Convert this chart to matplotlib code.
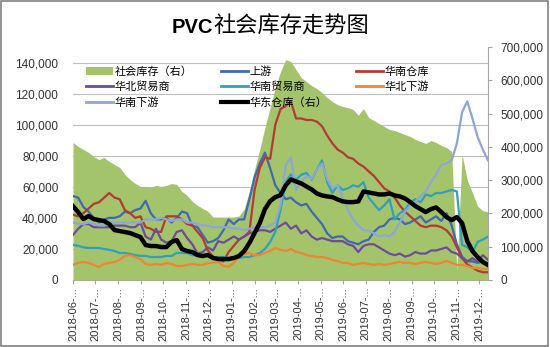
import pandas as pd
import matplotlib
matplotlib.use('Agg')
import matplotlib.pyplot as plt
from matplotlib.patches import Patch, Rectangle
from matplotlib.lines import Line2D
from matplotlib.ticker import FuncFormatter, MultipleLocator

plt.rcParams['font.family'] = ['Liberation Sans', 'Noto Sans CJK SC', 'DejaVu Sans']

# weekly data, values in thousands (tons)
dates = pd.date_range('2018-06-01', periods=81, freq='7D')
months = pd.date_range('2018-06-01', '2019-12-01', freq='MS')
month_labels = [d.strftime('%Y-%m') + '-...' for d in months]

# right axis
social_stock = [413, 401, 392, 383, 371, 362, 368, 356, 347, 338,
                317, 302, 290, 281, 281, 278, 284, 281, 284, 290,
                287, 266, 254, 236, 224, 215, 206, 189, 189, 189,
                189, 189, 192, 213, 266, 332, 392, 458, 518, 578,
                626, 662, 656, 632, 608, 596, 584, 575, 563, 548,
                536, 527, 521, 518, 512, 495, 515, 488, 479, 470,
                461, 452, 449, 443, 437, 431, 422, 416, 410, 419,
                413, 404, 398, 386, 30, 377, 300, 262, 222, 208, 205]
east_wh = [222, 204, 183, 192, 183, 180, 177, 168, 150, 147,
           144, 141, 135, 129, 105, 102, 102, 99, 99, 114,
           120, 93, 87, 84, 75, 72, 75, 66, 63, 63,
           63, 66, 72, 87, 111, 141, 171, 213, 237, 249,
           255, 284, 302, 296, 290, 281, 272, 260, 254, 251,
           249, 242, 236, 234, 234, 236, 266, 263, 260, 257,
           257, 260, 254, 251, 245, 234, 222, 213, 204, 213,
           218, 204, 189, 180, 189, 171, 117, 87, 69, 54, 45]

# left axis
upstream = [54, 53, 47, 44, 40, 37, 39, 40, 40, 41,
            44, 43, 45, 46, 51, 43, 39, 39, 40, 37,
            40, 44, 43, 35, 34, 29, 24, 25, 27, 32,
            39, 36, 39, 39, 52, 66, 75, 82, 72, 61,
            56, 52, 53, 50, 48, 49, 44, 40, 36, 30,
            27, 28, 28, 25, 24, 23, 25, 26, 31, 34,
            35, 39, 40, 39, 36, 37, 39, 41, 37, 39,
            41, 38, 43, 35, 23, 15, 12, 12, 11, 12, 10]
south_wh = [42, 41, 43, 46, 49, 50, 53, 56, 53, 52,
            45, 43, 40, 41, 34, 33, 31, 31, 41, 41,
            41, 39, 36, 35, 31, 27, 19, 15, 13, 12,
            18, 22, 26, 28, 31, 58, 72, 79, 78, 100,
            110, 112, 115, 104, 104, 103, 103, 102, 99, 93,
            88, 84, 82, 79, 78, 75, 73, 70, 67, 63,
            59, 57, 53, 48, 44, 41, 38, 35, 34, 35,
            35, 34, 32, 28, 21, 14, 10, 8, 6, 5, 5]
north_trader = [29, 33, 36, 36, 34, 34, 34, 34, 35, 35,
                35, 34, 34, 37, 28, 26, 33, 26, 24, 25,
                31, 32, 27, 23, 17, 18, 21, 19, 25, 24,
                26, 28, 26, 28, 30, 31, 32, 32, 31, 33,
                35, 37, 33, 35, 30, 32, 28, 26, 27, 26,
                25, 25, 25, 23, 22, 18, 22, 23, 23, 21,
                19, 17, 16, 17, 15, 16, 18, 17, 17, 19,
                19, 20, 21, 18, 17, 14, 12, 14, 12, 16, 13]
south_trader = [22.6, 22, 21, 20.6, 20.6, 20.6, 20, 19.4, 18.7, 17.4,
                17.4, 16.8, 16, 15.5, 15.5, 14.8, 14.8, 14.8, 15.5, 15.5,
                17.4, 17.4, 17.4, 16, 15.5, 14.8, 15.5, 14.8, 14.8, 14.8,
                14.2, 14.8, 14.2, 14.8, 14.8, 16, 17.4, 20, 24.5, 31,
                45, 63, 68, 64.5, 67.7, 69, 64.5, 71, 77, 63,
                56, 61, 58, 59, 61, 60, 63, 53, 49, 45,
                48, 52, 39, 43, 45, 50, 52, 50, 55, 54,
                56, 56, 57, 58, 57, 22.6, 21, 18, 24.5, 26, 28]
north_down = [9.7, 11, 11.6, 11, 9.7, 8.4, 10.3, 11, 11.6, 12.9,
              15.5, 16, 14.8, 13.5, 10.3, 9.7, 10.3, 9.7, 11, 10.3,
              9, 9, 9.7, 10.3, 9.7, 9.7, 11, 11, 11.6, 9,
              8.4, 11, 14.8, 16.8, 17.4, 16, 16, 17.4, 18.7, 20.6,
              19.4, 18.7, 20, 18, 17.4, 16, 15.5, 14.8, 14.8, 14.2,
              12.9, 12.3, 11, 11, 9.7, 10.3, 11, 10.3, 9.7, 10.3,
              9.7, 10.3, 11, 11.6, 11, 11, 10.3, 11, 11.6, 11,
              10.3, 11, 12.3, 11, 9.7, 9.7, 9, 7.7, 7.7, 7, 7]
south_down = [37, 36, 36, 37, 36, 35, 35, 36, 37, 37,
              37, 37, 37, 37, 39, 39, 39, 40, 39, 38,
              39, 39, 37, 37, 36, 35, 35, 34, 34, 34,
              34, 33, 33, 32, 33, 34, 34, 34, 35, 37,
              48, 74, 79, 58, 63, 67, 65, 71, 75, 65,
              59, 61, 53, 45, 39, 35, 32, 32, 30, 28,
              29, 28, 31, 37, 44, 48, 50, 54, 57, 63,
              68, 74, 75, 77, 88, 108, 115, 104, 92, 84, 77]

green = '#A4C46B'
left_series = [
    ('上游', upstream, '#4169B0'),
    ('华南仓库', south_wh, '#B33A35'),
    ('华北贸易商', north_trader, '#6E4C9A'),
    ('华南贸易商', south_trader, '#31A0BD'),
    ('华北下游', north_down, '#EE8533'),
    ('华南下游', south_down, '#8EA6D6'),
]

fmt = FuncFormatter(lambda v, p: f'{v * 1000:,.0f}')
gray = '#A6A6A6'

fig = plt.figure(figsize=(5.5, 3.47), dpi=100)
rect = [0.1327, 0.1931, 0.7546, 0.6715]
ax = fig.add_axes(rect, zorder=0)
axr = ax.twinx()
axr.set_zorder(1)
axl = fig.add_axes(rect, sharex=ax, sharey=ax, zorder=2)
axb = fig.add_axes(rect, sharex=ax, sharey=axr, zorder=3)
for a in (axr, axl, axb):
    a.patch.set_visible(False)

# area on right axis
axr.fill_between(dates, 0, social_stock, color=green, lw=0)

for name, vals, col in left_series:
    axl.plot(dates, vals, color=col, lw=1.6)
axb.plot(dates, east_wh, color='black', lw=3.2)
axl.axis('off')
axb.axis('off')

ax.set_xlim(dates[0], dates[-1])
ax.set_ylim(0, 150)
axr.set_ylim(0, 700)
ax.yaxis.set_major_locator(MultipleLocator(20))
ax.yaxis.set_major_formatter(fmt)
axr.yaxis.set_major_locator(MultipleLocator(100))
axr.yaxis.set_major_formatter(fmt)
ax.grid(axis='y', color='#BFBFBF', lw=0.8)
ax.set_axisbelow(True)

ax.set_xticks(months)
ax.set_xticklabels(month_labels, rotation=90)
ax.tick_params(axis='x', length=3, color=gray, labelsize=8, pad=2, labelcolor='#333333')
ax.tick_params(axis='y', length=0, pad=10.5, labelsize=8.5, labelcolor='#333333')
axr.tick_params(axis='y', length=3, color=gray, pad=6, labelsize=8.5, labelcolor='#333333')

for s in ('left', 'top', 'right'):
    ax.spines[s].set_visible(False)
ax.spines['bottom'].set_color(gray)
for s in ('left', 'top', 'bottom'):
    axr.spines[s].set_visible(False)
axr.spines['right'].set_color(gray)

# legend, column-major order to match the row layout
h = {name: Line2D([], [], color=col, lw=2) for name, vals, col in left_series}
h['社会库存（右）'] = Patch(facecolor=green, edgecolor='none')
h['华东仓库（右）'] = Line2D([], [], color='black', lw=3)
order = ['社会库存（右）', '华北贸易商', '华南下游', '上游', '华南贸易商',
         '华东仓库（右）', '华南仓库', '华北下游']
fig.legend([h[k] for k in order], order, loc='upper left',
           bbox_to_anchor=(86 / 550, 1 - 66 / 347), ncol=3, frameon=False,
           prop={'family': 'Noto Sans CJK SC', 'size': 8},
           handlelength=2.4, handletextpad=0.15, columnspacing=2.6,
           labelspacing=0.45, borderaxespad=0, borderpad=0)

fig.text(213 / 550, 1 - 33 / 347, 'PVC', ha='right', va='baseline',
         fontsize=14.5, weight='bold', family='Liberation Sans')
fig.text(213 / 550, 1 - 33 / 347, '社会库存走势图', ha='left', va='baseline',
         fontsize=16, family='Noto Sans CJK SC')

fig.patches.append(Rectangle((0.002, 0.003), 0.995, 0.993, transform=fig.transFigure,
                             fill=False, edgecolor='#808080', lw=1.2))

fig.savefig('out.png', dpi=100)
